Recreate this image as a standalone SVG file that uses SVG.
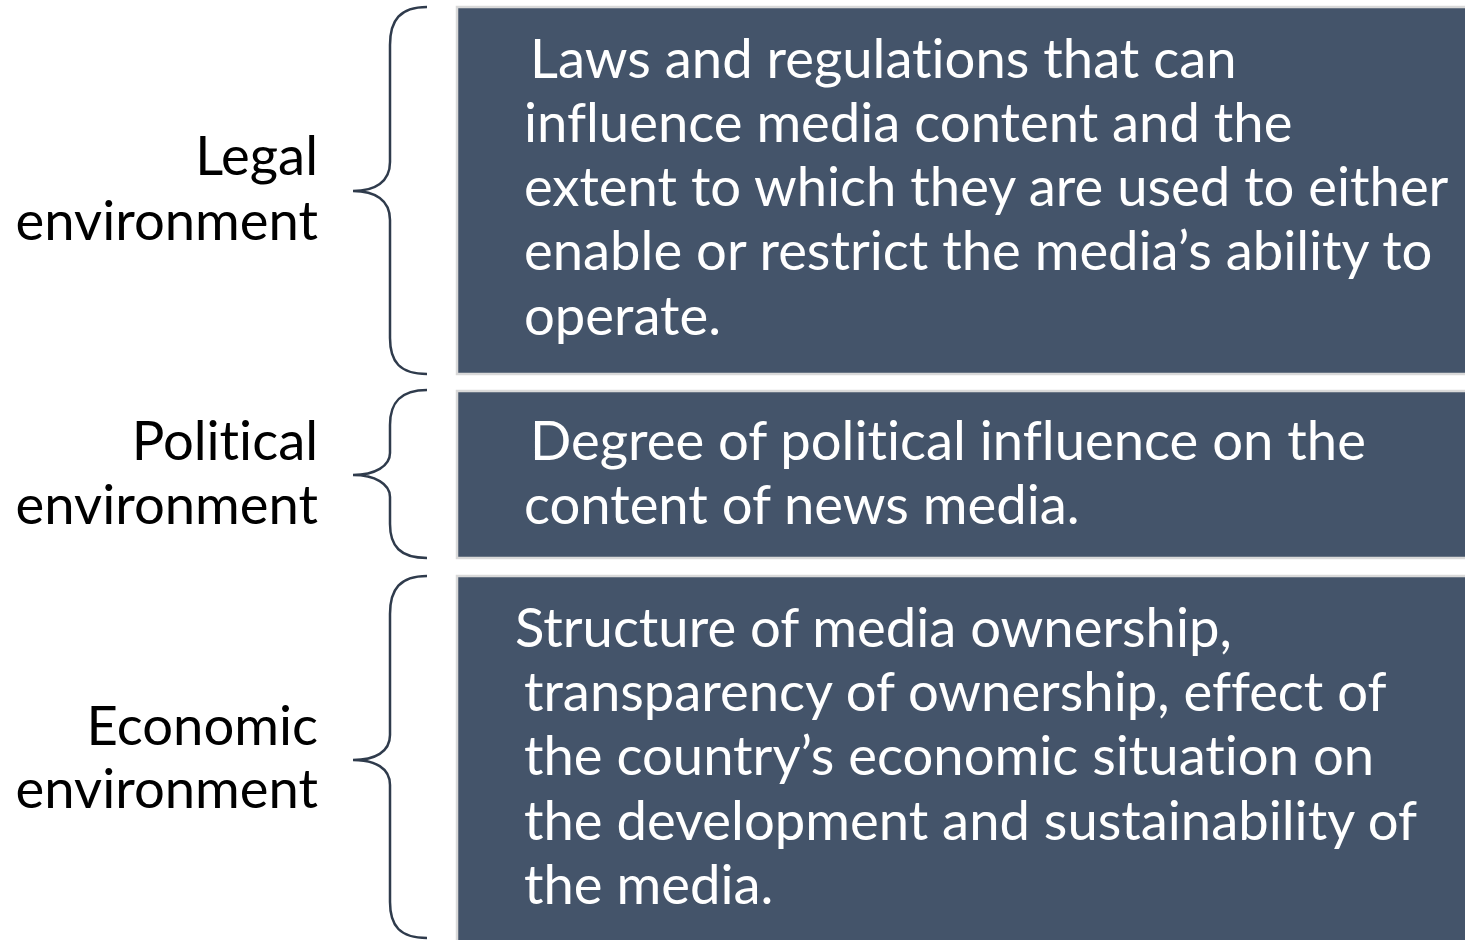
<svg xmlns="http://www.w3.org/2000/svg" width="1465" height="940" viewBox="0 0 1465 940">
<style>
.box{fill:#44546A;stroke:#D9D9D9;stroke-width:2.5}
.brace{fill:none;stroke:#2F3B4C;stroke-width:2.5}
.bt{font-family:Lato,"Open Sans",sans-serif;font-size:54.4px;fill:#FFFFFF;font-variant-ligatures:none}
.lt{font-family:Lato,"Open Sans",sans-serif;font-size:54.4px;fill:#000000;text-anchor:end;font-variant-ligatures:none}
</style>
<rect width="1465" height="940" fill="#FFFFFF"/>
<g id="connectors">
<path class="brace" d="M427,7 C400,7 390,20 390,45 L390,162 C390,182 375,191 353,191 C375,191 390,200 390,220 L390,338 C390,362 400,374 427,374"/>
<path class="brace" d="M427,390 C400,390 390,403 390,425 L390,453 C390,466 375,475 353,475 C375,475 390,484 390,497 L390,524 C390,546 400,558 427,558"/>
<path class="brace" d="M427,576 C400,576 390,589 390,614 L390,735 C390,752 375,760 353,760 C375,760 390,768 390,785 L390,902 C390,926 400,938 427,938"/>
</g>
<g id="legal">
<text class="lt" x="318" y="175">Legal</text>
<text class="lt" x="318" y="240">environment</text>
<rect class="box" x="457" y="7" width="1020" height="367"/>
<text class="bt" x="530" y="78">Laws and regulations that can</text>
<text class="bt" x="524" y="142">influence media content and the</text>
<text class="bt" x="524" y="206">extent to which they are used to either</text>
<text class="bt" x="524" y="270">enable or restrict the media’s ability to</text>
<text class="bt" x="524" y="335">operate.</text>
</g>
<g id="political">
<text class="lt" x="318" y="460">Political</text>
<text class="lt" x="318" y="524">environment</text>
<rect class="box" x="457" y="391" width="1020" height="167"/>
<text class="bt" x="530" y="460">Degree of political influence on the</text>
<text class="bt" x="524" y="524">content of news media.</text>
</g>
<g id="economic">
<text class="lt" x="318" y="745">Economic</text>
<text class="lt" x="318" y="808">environment</text>
<rect class="box" x="457" y="576" width="1020" height="380"/>
<text class="bt" x="515" y="647">Structure of media ownership,</text>
<text class="bt" x="524" y="711">transparency of ownership, effect of</text>
<text class="bt" x="524" y="775">the country’s economic situation on</text>
<text class="bt" x="524" y="840">the development and sustainability of</text>
<text class="bt" x="524" y="904">the media.</text>
</g>
</svg>
